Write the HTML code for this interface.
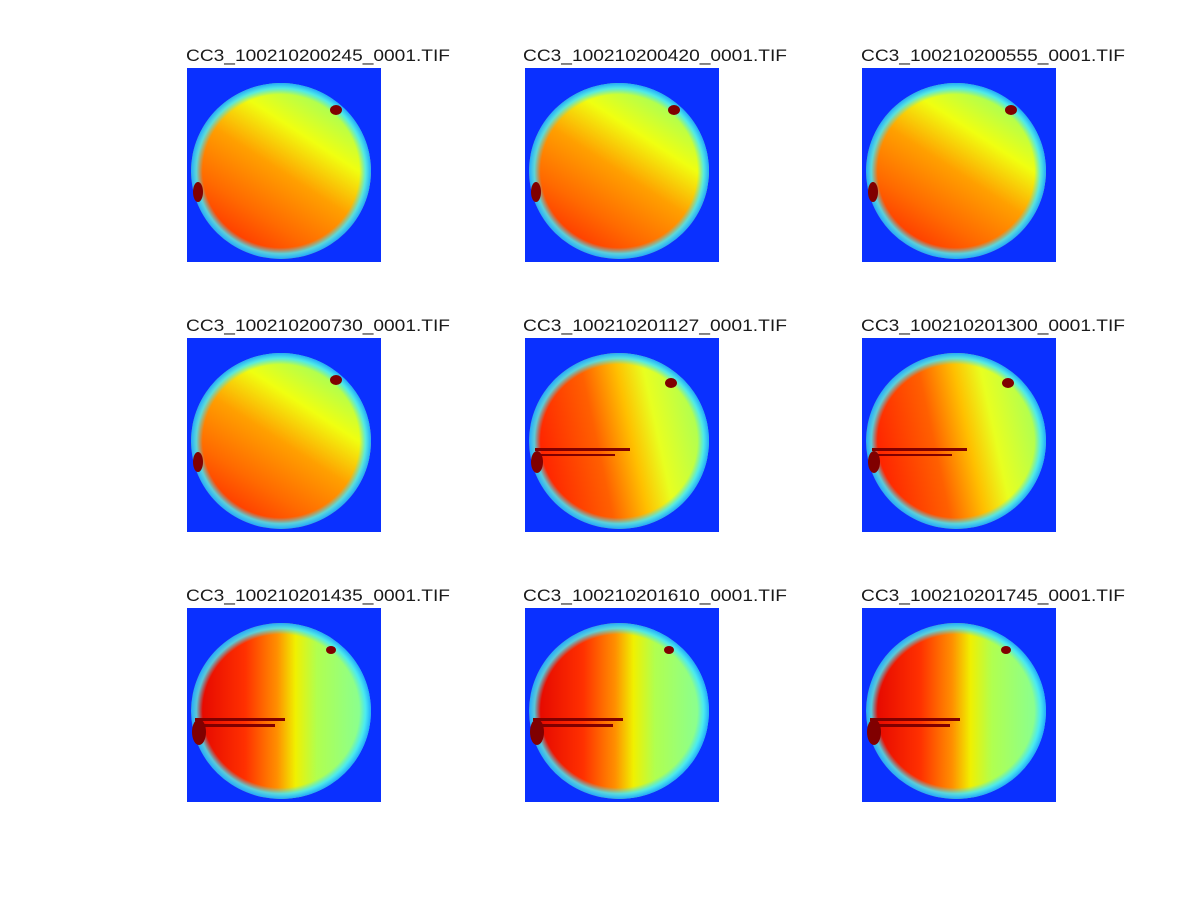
<!DOCTYPE html>
<html><head><style>
html,body{margin:0;padding:0;background:#fff;}
svg{display:block;}
text{font-family:"Liberation Sans",sans-serif;font-size:17px;fill:#1a1a1a;}
</style></head><body>
<svg width="1201" height="901" viewBox="0 0 1201 901" xmlns="http://www.w3.org/2000/svg">
<defs>
  <linearGradient id="gA" x1="0.2" y1="0.95" x2="0.8" y2="0.05">
    <stop offset="0" stop-color="#ff2a00"/>
    <stop offset="0.25" stop-color="#ff6a00"/>
    <stop offset="0.5" stop-color="#ffa000"/>
    <stop offset="0.72" stop-color="#f0ff10"/>
    <stop offset="1" stop-color="#90ff70"/>
  </linearGradient>
  <linearGradient id="gB" x1="0.05" y1="0.6" x2="1" y2="0.4">
    <stop offset="0" stop-color="#ff2000"/>
    <stop offset="0.35" stop-color="#ff6000"/>
    <stop offset="0.55" stop-color="#ffc000"/>
    <stop offset="0.7" stop-color="#e8ff20"/>
    <stop offset="1" stop-color="#a0ff60"/>
  </linearGradient>
  <linearGradient id="gC" x1="0" y1="0.5" x2="1" y2="0.5">
    <stop offset="0" stop-color="#e00000"/>
    <stop offset="0.3" stop-color="#ff3000"/>
    <stop offset="0.48" stop-color="#ff9000"/>
    <stop offset="0.58" stop-color="#f0f000"/>
    <stop offset="0.7" stop-color="#b0ff50"/>
    <stop offset="1" stop-color="#80ffa0"/>
  </linearGradient>
  <radialGradient id="rim" cx="0.5" cy="0.5" r="0.5">
    <stop offset="0.87" stop-color="#40e0ff" stop-opacity="0"/>
    <stop offset="0.94" stop-color="#40e8ff" stop-opacity="0.85"/>
    <stop offset="1" stop-color="#20a8ff" stop-opacity="1"/>
  </radialGradient>
  <g id="pA">
    <rect width="194" height="194" fill="#0a30ff"/>
    <ellipse cx="94" cy="103" rx="90" ry="88" fill="url(#gA)"/>
    <ellipse cx="94" cy="103" rx="90" ry="88" fill="url(#rim)"/>
    <ellipse cx="149" cy="42" rx="6" ry="5" fill="#800000"/>
    <ellipse cx="11" cy="124" rx="5" ry="10" fill="#800000"/>
  </g>
  <g id="pB">
    <rect width="194" height="194" fill="#0a30ff"/>
    <ellipse cx="94" cy="103" rx="90" ry="88" fill="url(#gB)"/>
    <ellipse cx="94" cy="103" rx="90" ry="88" fill="url(#rim)"/>
    <ellipse cx="146" cy="45" rx="6" ry="5" fill="#800000"/>
    <ellipse cx="12" cy="124" rx="6" ry="11" fill="#800000"/>
    <rect x="10" y="110" width="95" height="3" fill="#800000"/>
    <rect x="10" y="116" width="80" height="2" fill="#800000"/>
  </g>
  <g id="pC">
    <rect width="194" height="194" fill="#0a30ff"/>
    <ellipse cx="94" cy="103" rx="90" ry="88" fill="url(#gC)"/>
    <ellipse cx="94" cy="103" rx="90" ry="88" fill="url(#rim)"/>
    <ellipse cx="144" cy="42" rx="5" ry="4" fill="#800000"/>
    <ellipse cx="12" cy="124" rx="7" ry="13" fill="#800000"/>
    <rect x="8" y="110" width="90" height="3" fill="#800000"/>
    <rect x="8" y="116" width="80" height="3" fill="#800000"/>
  </g>
</defs>
<use href="#pA" x="187" y="68"/>
<use href="#pA" x="525" y="68"/>
<use href="#pA" x="862" y="68"/>
<use href="#pA" x="187" y="338"/>
<use href="#pB" x="525" y="338"/>
<use href="#pB" x="862" y="338"/>
<use href="#pC" x="187" y="608"/>
<use href="#pC" x="525" y="608"/>
<use href="#pC" x="862" y="608"/>
<text x="186" y="61" textLength="264" lengthAdjust="spacingAndGlyphs">CC3_100210200245_0001.TIF</text>
<text x="523" y="61" textLength="264" lengthAdjust="spacingAndGlyphs">CC3_100210200420_0001.TIF</text>
<text x="861" y="61" textLength="264" lengthAdjust="spacingAndGlyphs">CC3_100210200555_0001.TIF</text>
<text x="186" y="331" textLength="264" lengthAdjust="spacingAndGlyphs">CC3_100210200730_0001.TIF</text>
<text x="523" y="331" textLength="264" lengthAdjust="spacingAndGlyphs">CC3_100210201127_0001.TIF</text>
<text x="861" y="331" textLength="264" lengthAdjust="spacingAndGlyphs">CC3_100210201300_0001.TIF</text>
<text x="186" y="601" textLength="264" lengthAdjust="spacingAndGlyphs">CC3_100210201435_0001.TIF</text>
<text x="523" y="601" textLength="264" lengthAdjust="spacingAndGlyphs">CC3_100210201610_0001.TIF</text>
<text x="861" y="601" textLength="264" lengthAdjust="spacingAndGlyphs">CC3_100210201745_0001.TIF</text>
</svg>
</body></html>
